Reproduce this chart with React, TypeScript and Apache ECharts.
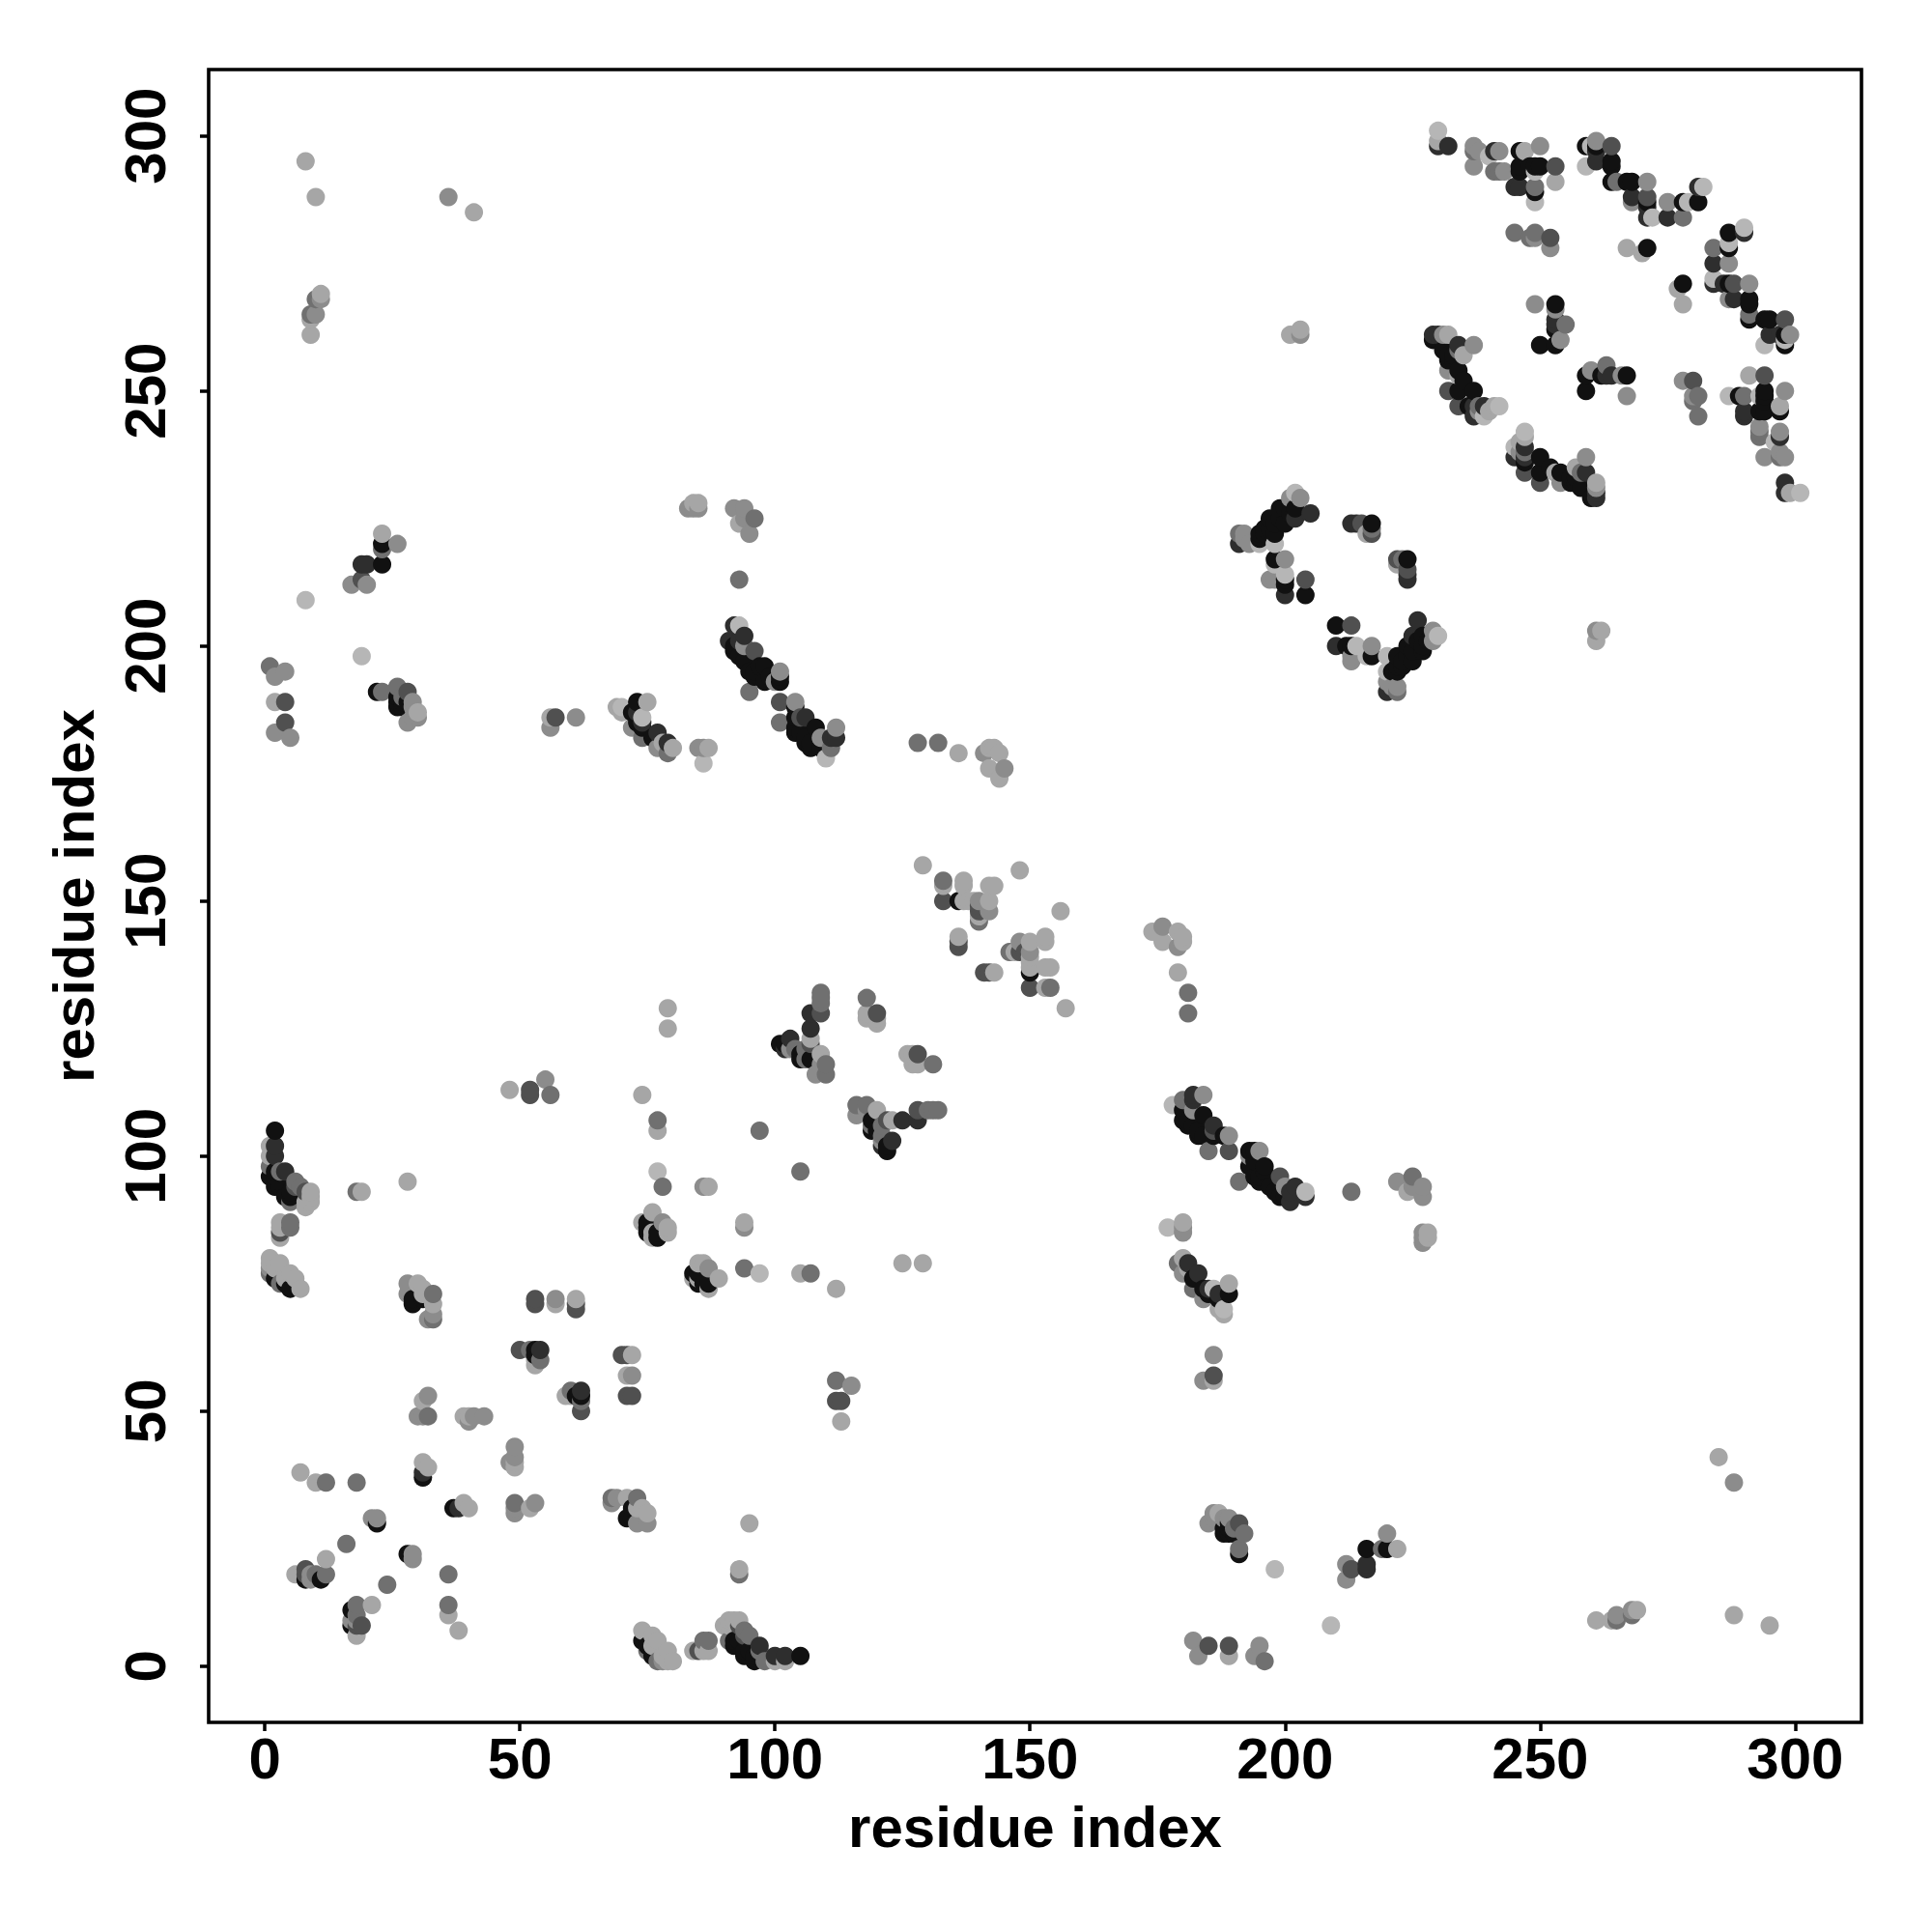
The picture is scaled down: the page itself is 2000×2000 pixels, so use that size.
import React, { useEffect, useRef } from "react";
import * as echarts from "echarts";

// Contact map. The reference is symmetric about its diagonal, so each
// contact is listed once (in whichever triangle was easiest to read) and shown at (i,j) and (j,i).
const nearBlack: number[][] = [
  [2,105],[1,96],[3,94],[4,92],[2,76],[4,75],[5,74],[2,97],[3,95],[5,93],[23,220],[23,216],[22,191],[26,189],[27,188],
  [73,189],[74,184],[76,182],[92,200],[93,198],[95,195],[98,196],[101,194],[97,196],[96,195],[99,194],
  [104,183],[105,183],[108,184],[107,181],[106,182],[109,180],[202,227],[201,228],[199,227],[200,224],[197,225],[198,222],[195,222],[196,223],
  [198,217],[200,212],[204,210],[217,224],[224,217],[210,204],[213,200],[217,198],[227,200],[226,201],[225,199],[224,198],[223,197],[222,196],[221,195],[224,200],
  [246,297],[246,294],[246,293],[249,294],[250,294],[249,289],[259,298],[264,295],[264,294],[264,291],[267,291],[268,291],[271,287],[278,287],[281,287],[271,278],[287,281],[287,278],[291,268],[291,264],[294,264],[295,264],[298,261],
  [253,267],[253,262],[250,259],[234,254],[234,250],[237,250],[231,258],[233,257],[232,256],[235,252],[250,237],[250,234],[254,234],[247,236],[258,231],[256,233],[260,229],[257,232],
  [259,250],[259,253],[267,253],[294,250],[294,248],[289,249],[293,246],[294,246],[136,150],[101,122],[105,119],[119,107],[120,105],[122,102],
  [180,107],[183,105],[186,104],[188,104],[181,106],[184,104],[193,101],[193,98],[196,98],[194,96],[198,93],[195,95],[197,94],[199,92],[189,73],[187,72],[185,73],
  [189,27],[189,28],[188,26],[190,26],[191,22],[216,23],[220,23],[11,17],[8,17],[22,28],[31,37],[53,62],[53,61],[29,71],[31,72],[75,86],[77,85],[84,77],[85,75],[87,75],[72,29],[92,5],[94,2],[95,3],[96,2],
];
const charcoal: number[][] = [
  [2,102],[19,216],[20,216],[77,183],[79,181],[94,202],[91,201],[92,204],[226,205],[225,202],[205,226],[230,298],[232,298],[241,297],[245,290],
  [261,295],[261,297],[268,288],[271,284],[275,284],[281,290],[278,271],[284,275],[284,271],[286,271],[288,268],[295,261],[298,259],[298,232],[290,246],[290,245],
  [253,263],[253,259],[234,259],[229,261],[230,261],[237,247],[239,247],[259,234],[261,229],[261,230],[245,237],[263,253],[264,253],[224,214],[224,213],[210,200],[220,191],
  [216,20],[216,19],[103,123],[107,128],[107,125],[128,107],[123,103],[121,102],[184,108],[186,106],[182,112],[182,111],[201,93],[204,92],[201,91],[183,77],[187,73],[185,74],[102,2],[100,2],[54,62],[62,54],[97,4],[31,38],[191,220],
];
const darkGrey: number[][] = [
  [4,189],[4,185],[57,186],[96,199],[101,189],[106,186],[105,186],[112,182],[204,213],[213,224],[215,224],[213,204],[222,217],[253,294],[264,298],[271,288],[288,271],[252,280],[298,264],[280,252],[250,232],[247,234],[234,247],[133,150],[150,133],[120,128],[122,107],[125,107],[128,109],
  [112,52],[113,52],[52,113],[185,4],[189,4],[213,19],[8,19],[50,62],[62,50],[53,72],[71,53],[72,53],[186,57],[181,79],[189,101],[199,96],[93,8],[94,6],[4,97],[28,191],[140,149],[136,142],[141,136],[148,140],[3,85],[8,18],[61,71],[70,61],
];
const midGrey: number[][] = [
  [1,196],[19,213],[23,191],[26,192],[27,190],[93,213],[96,225],[101,185],[111,180],[128,181],[132,181],[74,182],[79,179],[133,154],[255,263],[278,284],[291,265],[232,250],[237,297],[281,249],[281,245],[290,249],[245,281],[248,280],[249,281],[242,293],[247,238],[258,234],[293,241],[222,191],[217,223],
  [140,146],[146,140],[181,132],[181,128],[109,132],[109,131],[109,128],[106,121],[104,121],[106,119],[110,116],[116,110],[118,110],[118,131],[130,109],[132,109],[97,105],[105,97],[185,101],[191,95],[78,94],[213,93],[225,96],[107,77],[112,56],[196,1],[191,28],[219,23],[265,9],[18,36],[16,24],[36,18],[36,12],[18,12],[12,36],[10,18],[12,18],[68,33],[73,33],[32,49],[49,32],[38,31],[33,73],[54,60],[62,52],[93,18],[18,93],[5,87],[5,86],[56,112],[9,265],[10,268],[6,95],[8,93],[3,75],[1,77],[5,91],[1,98],[3,97],[7,94],
];
const grey: number[][] = [
  [4,195],[2,194],[2,183],[5,182],[26,220],[17,212],[20,212],[29,189],[29,186],[30,186],[28,185],[56,184],[61,186],[72,184],[77,180],[86,180],[84,227],[85,227],[94,227],[94,225],[95,222],[94,200],[101,195],[100,193],[104,189],[112,184],[109,182],[141,179],[145,176],[102,122],[103,121],[203,261],
  [192,222],[193,220],[200,217],[197,213],[203,229],[229,203],[229,201],[213,198],[222,192],[221,192],[238,297],[237,294],[241,293],[243,293],[250,298],[265,291],[268,287],[271,291],[275,287],[252,278],[261,299],[249,267],[291,271],[287,275],[299,261],[254,260],[237,259],[238,246],[254,232],[261,231],[260,254],[267,249],[266,253],[278,252],[280,249],[293,242],[293,243],[297,242],[298,250],[294,237],[298,237],
  [142,148],[140,150],[110,118],[118,109],[116,108],[184,112],[189,104],[195,101],[222,95],[227,94],[227,92],[227,83],[180,85],[180,86],[188,29],[192,26],[191,23],[186,61],[212,20],[212,17],[115,55],[220,26],[265,10],[268,10],[28,75],[28,73],[33,68],[32,68],[57,72],[31,49],[43,49],[40,48],[49,43],[48,40],[49,41],[22,29],[29,22],[29,21],[9,18],[18,10],[17,9],[69,33],[68,32],[49,30],[75,28],[73,28],[86,5],[87,5],[78,87],[87,78],[94,86],[1,78],[72,57],[53,32],[36,288],[10,265],[11,268],[41,49],
];
const lightGrey: number[][] = [
  [8,295],[10,288],[41,285],[9,261],[9,264],[11,269],[1,80],[3,79],[5,77],[6,76],[7,74],[2,78],[4,76],[1,79],[2,189],[56,186],[69,188],[70,187],[75,189],[80,180],[78,181],[87,180],[84,228],[85,228],[92,227],[93,224],[144,179],[142,176],[142,180],[143,180],[136,179],[144,174],[201,229],[201,261],[203,262],[230,299],[242,297],[253,291],[267,278],[270,277],[277,270],[278,267],[291,253],[297,247],[232,254],[235,257],[247,241],[246,240],[253,234],[257,235],[259,237],[261,232],
  [129,157],[133,153],[137,154],[137,153],[137,150],[139,150],[142,150],[143,153],[148,156],[140,147],[136,143],[148,142],[150,142],[150,138],[153,143],[153,142],[154,137],[153,137],[153,133],[157,129],[174,144],[176,145],[179,144],[176,142],[179,141],[179,136],[107,123],[109,120],[108,116],[118,128],[118,127],[120,127],[126,120],[120,109],[224,93],[227,84],[228,84],[180,87],[188,69],[184,56],[186,56],[185,28],[186,30],[187,30],[182,5],[183,2],[189,2],[195,4],[194,2],[105,77],[125,79],[129,79],[112,74],[113,48],[7,38],[10,36],[30,75],[31,74],[33,71],[53,59],[53,60],[59,53],[61,72],[57,71],[61,70],[71,61],[72,61],[71,57],[39,49],[40,49],[49,39],[31,40],[32,39],[32,53],[21,29],[12,21],[6,18],[21,12],[18,6],[36,10],[38,7],[39,32],[40,31],[52,31],[71,33],[73,31],[75,30],[93,19],[85,3],[87,3],[90,8],[92,9],[93,9],[85,79],[86,79],[89,76],[84,76],[87,74],[19,93],[28,95],[9,91],[8,91],[3,87],[3,86],[3,84],[48,113],[74,112],[79,129],[79,125],[77,105],[86,94],[87,94],[75,87],[79,86],[76,85],[94,87],[261,9],[269,11],[288,10],[295,8],[285,41],[288,36],[1,102],[222,23],[1,100],[222,216],[262,203],
];
const paleGrey: number[][] = [
  [8,209],[19,198],[23,222],[30,187],[86,177],[74,186],[93,204],[98,193],[110,178],[202,230],[230,202],[195,220],[198,220],[200,214],[216,222],[214,200],[216,198],[220,198],[220,195],[230,301],[247,297],[249,293],[260,298],[272,284],[279,287],[282,290],[287,279],[284,272],[290,282],[298,260],[239,245],[242,247],[245,239],[296,240],[287,249],[287,268],[259,294],[249,287],[142,153],[180,143],[198,19],[209,8],[177,86],[178,110],[189,75],[186,74],[188,70],[31,52],[60,54],[76,89],[77,97],[95,28],[9,92],
];
const shadeGroups = [nearBlack, charcoal, darkGrey, midGrey, grey, lightGrey, paleGrey];
const shadeColors = ["#111111", "#2e2e2e", "#505050", "#707070", "#8c8c8c", "#a6a6a6", "#b6b6b6"];
const tickValues = [0, 50, 100, 150, 200, 250, 300];
const axisName = "residue index";

function buildPoints(): number[][] {
  const seen = new Map<string, number[]>();
  shadeGroups.forEach((pairs, shade) => {
    pairs.forEach(([a, b]) => {
      for (const [x, y] of [[a, b], [b, a]]) {
        const key = x + "," + y;
        if (!seen.has(key)) seen.set(key, [x, y, shade]);
      }
    });
  });
  return Array.from(seen.values()).sort((p, q) => p[0] - q[0] || p[1] - q[1]);
}

export default function App() {
  const ref = useRef<HTMLDivElement>(null);
  useEffect(() => {
    const chart = echarts.init(ref.current!, undefined, { renderer: "svg" });
    const font = { fontFamily: "Liberation Sans", fontWeight: "bold" as const, fontSize: 60, color: "#000" };
    const axis = (labelMargin: number, rotate: number, nameGap: number) => ({
      type: "value" as const,
      min: -11,
      max: 313,
      name: axisName,
      nameLocation: "middle" as const,
      nameGap,
      nameTextStyle: { ...font },
      axisLine: { show: false, onZero: false },
      splitLine: { show: false },
      axisTick: { show: true, length: 9, inside: false, customValues: tickValues, lineStyle: { color: "#000", width: 3.5 } },
      axisLabel: { ...font, margin: labelMargin, rotate, customValues: tickValues, hideOverlap: false },
    });
    chart.setOption({
      animation: false,
      backgroundColor: "#ffffff",
      grid: { left: 216, top: 72, width: 1711, height: 1711, show: true, borderColor: "#000", borderWidth: 3.6, backgroundColor: "transparent" },
      xAxis: axis(7, 0, 78),
      yAxis: axis(36, 90, 110),
      series: [
        {
          type: "scatter",
          data: buildPoints(),
          symbol: "circle",
          symbolSize: 19,
          silent: true,
          clip: false,
          itemStyle: { opacity: 1, color: (p: any) => shadeColors[p.value[2]] },
        },
      ],
    });
    return () => chart.dispose();
  }, []);
  return <div ref={ref} style={{ position: "absolute", left: 0, top: 0, width: 2000, height: 2000 }} />;
}
